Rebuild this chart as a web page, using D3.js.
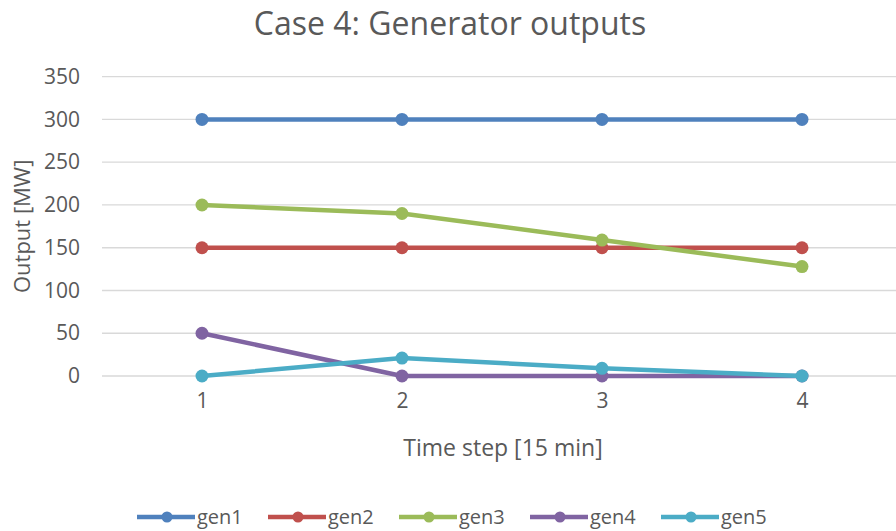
<!DOCTYPE html>
<html>
<head>
<meta charset="utf-8">
<script src="https://cdn.jsdelivr.net/npm/d3@7"></script>
<style>
  html, body { margin: 0; padding: 0; background: #fff; }
  svg { display: block; font-family: "Open Sans", sans-serif; }
</style>
</head>
<body>
<svg id="chart" width="896" height="531"></svg>
<script>
// Time steps (15-minute intervals)
const steps = [1, 2, 3, 4];
// Generator outputs in MW
const gen1 = [300, 300, 300, 300];
const gen2 = [150, 150, 150, 150];
const gen3 = [200, 190, 159, 128];
const gen4 = [50, 0, 0, 0];
const gen5 = [0, 21, 9, 0];
const seriesNames = ["gen1", "gen2", "gen3", "gen4", "gen5"];
const seriesColors = ["#4F81BD", "#C0504D", "#9BBB59", "#8064A2", "#4BACC6"];
const yTicks = [0, 50, 100, 150, 200, 250, 300, 350];

const series = [gen1, gen2, gen3, gen4, gen5].map((vals, i) => ({
  name: seriesNames[i], color: seriesColors[i],
  points: vals.map((v, j) => ({ step: steps[j], value: v }))
}));

const svg = d3.select("#chart");
const plot = { left: 102, right: 902, top: 76.7, bottom: 376 };
const textColor = "#595959";
const font = "'Open Sans', sans-serif";

const x = d3.scalePoint().domain(steps).range([plot.left, plot.right]).padding(0.5);
const y = d3.scaleLinear().domain([0, 350]).range([plot.bottom, plot.top]);

// Title
svg.append("text")
  .attr("x", 450).attr("y", 35)
  .attr("text-anchor", "middle")
  .attr("font-size", 32).attr("fill", textColor)
  .text("Case 4: Generator outputs");

// Horizontal gridlines
svg.append("g").selectAll("line").data(yTicks).join("line")
  .attr("x1", plot.left).attr("x2", plot.right)
  .attr("y1", d => y(d)).attr("y2", d => y(d))
  .attr("stroke", "#d9d9d9").attr("stroke-width", 1.3);

// Y axis labels
const yAxis = d3.axisLeft(y).tickValues(yTicks).tickSize(0).tickPadding(22);
const gy = svg.append("g").attr("transform", `translate(${plot.left},0)`).call(yAxis);
gy.select(".domain").remove();
gy.selectAll("text").attr("font-size", 21).attr("fill", textColor)
  .attr("font-family", font);

// X axis labels
const xAxis = d3.axisBottom(x).tickSize(0).tickPadding(17);
const gx = svg.append("g").attr("transform", `translate(0,${plot.bottom})`).call(xAxis);
gx.select(".domain").remove();
gx.selectAll("text").attr("font-size", 21).attr("fill", textColor)
  .attr("font-family", font);

// Axis titles
svg.append("text")
  .attr("transform", `translate(30,${(plot.top + plot.bottom) / 2}) rotate(-90)`)
  .attr("text-anchor", "middle").attr("font-size", 22).attr("fill", textColor)
  .text("Output [MW]");
svg.append("text")
  .attr("x", 503).attr("y", 456)
  .attr("text-anchor", "middle").attr("font-size", 23).attr("fill", textColor)
  .text("Time step [15 min]");

// Series lines and markers
const line = d3.line().x(d => x(d.step)).y(d => y(d.value));
const gs = svg.append("g").selectAll("g").data(series).join("g");
gs.append("path")
  .attr("d", d => line(d.points))
  .attr("fill", "none").attr("stroke", d => d.color)
  .attr("stroke-width", 4.5).attr("stroke-linejoin", "round").attr("stroke-linecap", "round");
gs.selectAll("circle").data(d => d.points.map(p => ({ ...p, color: d.color }))).join("circle")
  .attr("cx", d => x(d.step)).attr("cy", d => y(d.value))
  .attr("r", 6.5).attr("fill", d => d.color);

// Legend
const legend = svg.append("g").selectAll("g").data(series).join("g")
  .attr("transform", (d, i) => `translate(${137 + i * 131},517)`);
legend.append("line")
  .attr("x1", 0).attr("x2", 58).attr("y1", 0).attr("y2", 0)
  .attr("stroke", d => d.color).attr("stroke-width", 4.5);
legend.append("circle").attr("cx", 30).attr("cy", 0).attr("r", 5.5).attr("fill", d => d.color);
legend.append("text")
  .attr("x", 60).attr("y", 7)
  .attr("font-size", 20).attr("fill", textColor)
  .text(d => d.name);
</script>
</body>
</html>
